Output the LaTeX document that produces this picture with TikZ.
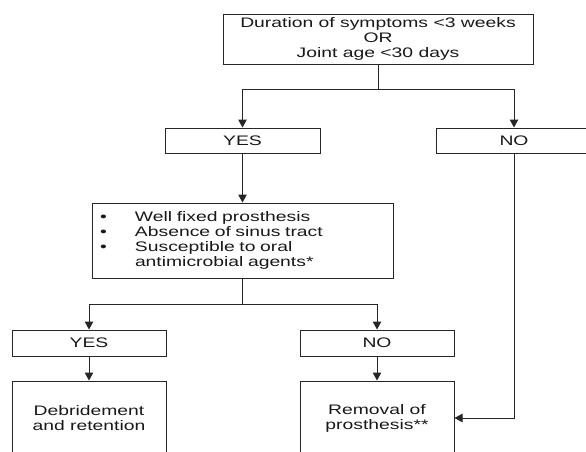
\documentclass[tikz,border=0pt]{standalone}
\usepackage{fontspec}
\setmainfont{Liberation Sans}[FakeStretch=1.4]
\usetikzlibrary{arrows.meta}
\begin{document}
\begin{tikzpicture}[x=1pt,y=-1pt,
  box/.style={draw=black!85, line width=1pt, rectangle, inner sep=0pt,
    font=\fontsize{13.8}{15}\selectfont, align=center, text=black!90},
  arr/.style={draw=black!85, line width=1pt, -{Triangle[width=8.5pt,length=8pt]}},
  ln/.style={draw=black!85, line width=1pt}]
\useasboundingbox (0,0) rectangle (586,451);
\clip (0,0) rectangle (586,451);
\fill[white] (0,0) rectangle (586,451);
\node[box, minimum width=310pt, minimum height=50pt] (top) at (378,39)
  {Duration of symptoms <3 weeks\\OR\\Joint age <30 days};
\coordinate (j1) at (378,89);
\node[box, minimum width=155pt, minimum height=25pt] (yes1) at (242.5,140.5) {YES};
\node[box, minimum width=156pt, minimum height=25pt] (no1) at (514,140.5) {NO};
\node[box, minimum width=301pt, minimum height=75pt, align=left, text width=285pt] (crit) at (242.5,240.5)
  {\makebox[35pt][l]{\textbullet}Well fixed prosthesis\\
   \makebox[35pt][l]{\textbullet}Absence of sinus tract\\
   \makebox[35pt][l]{\textbullet}Susceptible to oral\\
   \makebox[35pt][l]{}antimicrobial agents*};
\coordinate (j2) at (242.5,304);
\node[box, minimum width=154pt, minimum height=26pt] (yes2) at (89,343) {YES};
\node[box, minimum width=154pt, minimum height=26pt] (no2) at (377,343) {NO};
\node[box, minimum width=154pt, minimum height=74pt] (res1) at (89,418) {Debridement\\and retention};
\node[box, minimum width=154pt, minimum height=74pt] (res2) at (377,418) {Removal of\\prosthesis**};
\draw[ln] (top.south) -- (j1);
\draw[arr] (j1) -| (yes1.north);
\draw[arr] (j1) -| (no1.north);
\draw[arr] (yes1.south) -- (crit.north);
\draw[ln] (crit.south) -- (j2);
\draw[arr] (j2) -| (yes2.north);
\draw[arr] (j2) -| (no2.north);
\draw[arr] (yes2.south) -- (res1.north);
\draw[arr] (no2.south) -- (res2.north);
\draw[arr] (no1.south) |- (res2.east);
\end{tikzpicture}
\end{document}
